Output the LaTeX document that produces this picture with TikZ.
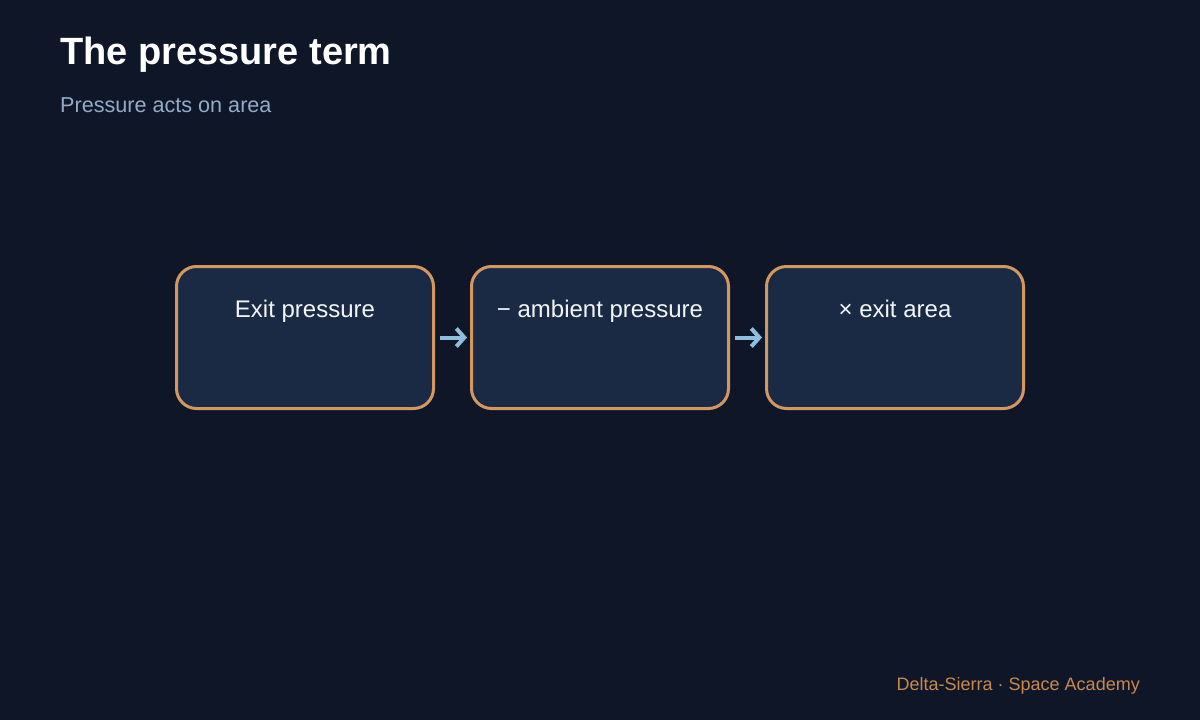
\documentclass[tikz,border=0pt]{standalone}
\usepackage{fontspec}
\setmainfont{Liberation Sans}
\usetikzlibrary{arrows.meta}
\definecolor{bg}{HTML}{0E1628}
\definecolor{boxfill}{HTML}{1A2A44}
\definecolor{boxline}{HTML}{D4975E}
\definecolor{arrowc}{HTML}{8EBEDD}
\definecolor{subc}{HTML}{94ABC6}
\definecolor{footc}{HTML}{C8894E}
\definecolor{boxtext}{HTML}{F2F5F8}
\tikzset{
  stepbox/.style={draw=boxline, line width=3pt, fill=boxfill, rounded corners=20pt,
    minimum width=257pt, minimum height=142pt, inner sep=0pt},
  boxlabel/.style={text=boxtext, anchor=base, inner sep=0pt, font=\fontsize{24}{28}\selectfont},
  flowarrow/.style={draw=arrowc, line width=4pt, -{Straight Barb[length=8pt,width=18pt]},
    shorten <=5pt, shorten >=3pt}
}
\begin{document}
\begin{tikzpicture}[x=1pt,y=-1pt]
\useasboundingbox[fill=bg] (0,0) rectangle (1200,720);
\node[anchor=base west, inner sep=0pt, text=white, font=\fontsize{38}{44}\bfseries\selectfont] (title) at (60,64) {The pressure term};
\node[anchor=base west, inner sep=0pt, text=subc, font=\fontsize{21.6}{26}\selectfont] (subtitle) at (60,112) {Pressure acts on area};
\node[stepbox] (b1) at (305,337.5) {};
\node[stepbox] (b2) at (600,337.5) {};
\node[stepbox] (b3) at (895,337.5) {};
\node[boxlabel] (t1) at (305,317) {Exit pressure};
\node[boxlabel] (t2) at (600,317) {− ambient pressure};
\node[boxlabel] (t3) at (895,317) {× exit area};
\draw[flowarrow] (b1.east) -- (b2.west);
\draw[flowarrow] (b2.east) -- (b3.west);
\node[anchor=base east, inner sep=0pt, text=footc, font=\fontsize{18}{22}\selectfont] (footer) at (1140,690) {Delta-Sierra · Space Academy};
\end{tikzpicture}
\end{document}
